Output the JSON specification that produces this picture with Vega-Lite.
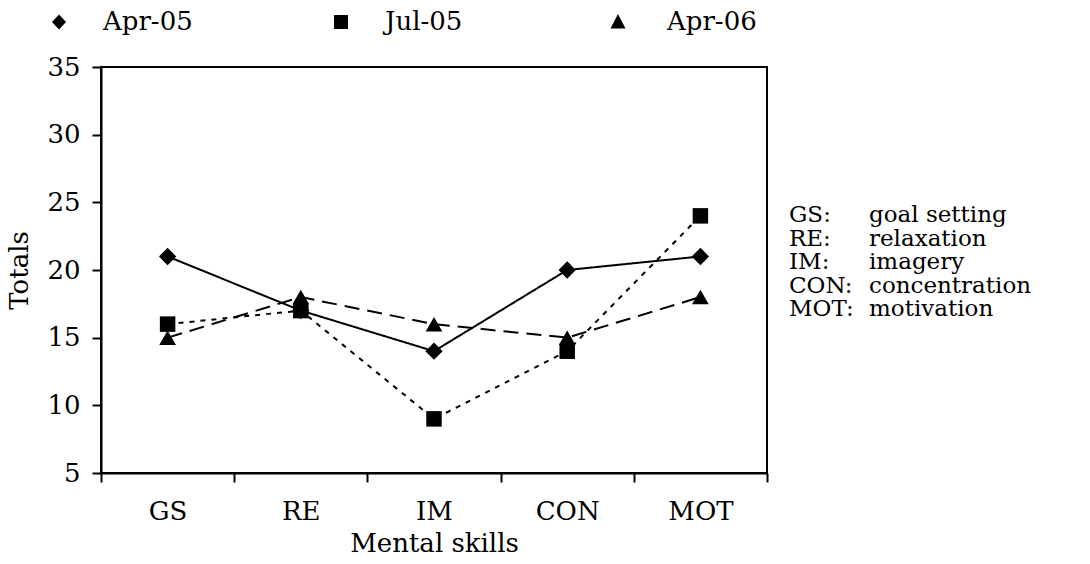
{
  "$schema": "https://vega.github.io/schema/vega-lite/v6.json",
  "background": "white",
  "padding": {"left": 5, "top": 9, "right": 5, "bottom": 2},
  "spacing": 20,
  "config": {
    "font": "DejaVu Serif",
    "view": {"stroke": null},
    "axis": {
      "domainColor": "black", "domainWidth": 2, "tickColor": "black", "tickWidth": 2,
      "labelColor": "black", "labelFontSize": 26, "labelFont": "DejaVu Serif",
      "titleColor": "black", "titleFontSize": 26, "titleFont": "DejaVu Serif", "titleFontWeight": "normal",
      "grid": false
    },
    "text": {"font": "DejaVu Serif"}
  },
  "hconcat": [
    {
      "width": 666,
      "height": 406,
      "view": {"stroke": "black", "strokeWidth": 2},
      "data": {"values": [
        {"series": "Apr-05", "skill": "GS", "total": 21},
        {"series": "Apr-05", "skill": "RE", "total": 17},
        {"series": "Apr-05", "skill": "IM", "total": 14},
        {"series": "Apr-05", "skill": "CON", "total": 20},
        {"series": "Apr-05", "skill": "MOT", "total": 21},
        {"series": "Jul-05", "skill": "GS", "total": 16},
        {"series": "Jul-05", "skill": "RE", "total": 17},
        {"series": "Jul-05", "skill": "IM", "total": 9},
        {"series": "Jul-05", "skill": "CON", "total": 14},
        {"series": "Jul-05", "skill": "MOT", "total": 24},
        {"series": "Apr-06", "skill": "GS", "total": 15},
        {"series": "Apr-06", "skill": "RE", "total": 18},
        {"series": "Apr-06", "skill": "IM", "total": 16},
        {"series": "Apr-06", "skill": "CON", "total": 15},
        {"series": "Apr-06", "skill": "MOT", "total": 18}
      ]},
      "layer": [
        {
          "mark": {"type": "line", "color": "black", "strokeWidth": 2},
          "encoding": {
            "x": {"field": "skill", "type": "nominal", "sort": ["GS", "RE", "IM", "CON", "MOT"],
                  "scale": {"type": "band", "paddingInner": 0, "paddingOuter": 0}, "bandPosition": 0.5,
                  "axis": {"title": "Mental skills", "tickBand": "extent", "labelAngle": 0, "tickSize": 9, "labelPadding": 16, "titlePadding": 6}},
            "y": {"field": "total", "type": "quantitative", "scale": {"domain": [5, 35], "nice": false, "zero": false},
                  "axis": {"title": "Totals", "values": [5, 10, 15, 20, 25, 30, 35], "tickSize": 9, "labelPadding": 12, "titlePadding": 14}},
            "strokeDash": {"field": "series", "type": "nominal", "sort": ["Apr-05", "Jul-05", "Apr-06"],
                  "scale": {"domain": ["Apr-05", "Jul-05", "Apr-06"], "range": [[1, 0], [5, 6], [15, 8]]},
                  "legend": null}
          }
        },
        {
          "transform": [{"filter": "datum.series === 'Apr-05'"}],
          "mark": {"type": "point", "filled": true, "color": "black", "opacity": 1, "size": 300, "shape": "diamond"},
          "encoding": {
            "x": {"field": "skill", "type": "nominal", "sort": ["GS", "RE", "IM", "CON", "MOT"], "bandPosition": 0.5},
            "y": {"field": "total", "type": "quantitative"}
          }
        },
        {
          "transform": [{"filter": "datum.series === 'Jul-05'"}],
          "mark": {"type": "point", "filled": true, "color": "black", "opacity": 1, "size": 240, "shape": "square"},
          "encoding": {
            "x": {"field": "skill", "type": "nominal", "sort": ["GS", "RE", "IM", "CON", "MOT"], "bandPosition": 0.5},
            "y": {"field": "total", "type": "quantitative"}
          }
        },
        {
          "transform": [{"filter": "datum.series === 'Apr-06'"}],
          "mark": {"type": "point", "filled": true, "color": "black", "opacity": 1, "size": 280, "shape": "triangle-up"},
          "encoding": {
            "x": {"field": "skill", "type": "nominal", "sort": ["GS", "RE", "IM", "CON", "MOT"], "bandPosition": 0.5},
            "y": {"field": "total", "type": "quantitative"}
          }
        },
        {
          "transform": [{"filter": "false"}],
          "mark": {"type": "point", "filled": true, "color": "black", "opacity": 1},
          "encoding": {
            "shape": {"field": "series", "type": "nominal",
                  "scale": {"domain": ["Apr-05", "Jul-05", "Apr-06"], "range": [
                    "M-1.1,0L6.9,0M3,-0.75L3.7,0L3,0.75L2.3,0Z",
                    "M-1.2,0L-0.5,0M0.2,0L0.9,0M1.6,0L2.3,0M3.7,0L4.3,0M5,0L5.7,0M6.4,0L7.1,0M2.3,-0.7L3.7,-0.7L3.7,0.7L2.3,0.7Z",
                    "M-1.4,0L1.2,0M3.6,0L5.9,0M2.5,-0.8L3.25,0.65L1.75,0.65Z"
                  ]},
                  "legend": {"orient": "none", "legendX": -85, "legendY": -58, "direction": "horizontal", "title": null,
                    "symbolSize": 400, "labelFontSize": 26, "labelFont": "DejaVu Serif", "labelColor": "black",
                    "labelOffset": 61, "columnPadding": 101, "gridAlign": "all", "labelLimit": 0,
                    "encode": {"symbols": {
                      "fill": {"value": "black"},
                      "stroke": {"value": "black"},
                      "strokeWidth": {"value": 2},
                      "opacity": {"value": 1}
                    }}}},
            "strokeDash": {"field": "series", "type": "nominal",
                  "scale": {"domain": ["Apr-05", "Jul-05", "Apr-06"], "range": [[1, 0], [1, 0], [1, 0]]},
                  "legend": null}
          }
        }
      ],
      "resolve": {"scale": {"strokeDash": "independent"}, "legend": {"strokeDash": "independent"}}
    },
    {
      "width": 160,
      "height": 406,
      "view": {"stroke": null},
      "data": {"values": [
        {"row": 1, "part": "key", "label": "GS:"},
        {"row": 1, "part": "desc", "label": "goal setting"},
        {"row": 2, "part": "key", "label": "RE:"},
        {"row": 2, "part": "desc", "label": "relaxation"},
        {"row": 3, "part": "key", "label": "IM:"},
        {"row": 3, "part": "desc", "label": "imagery"},
        {"row": 4, "part": "key", "label": "CON:"},
        {"row": 4, "part": "desc", "label": "concentration"},
        {"row": 5, "part": "key", "label": "MOT:"},
        {"row": 5, "part": "desc", "label": "motivation"}
      ]},
      "mark": {"type": "text", "align": "left", "baseline": "middle", "fontSize": 23, "color": "black", "font": "DejaVu Serif"},
      "encoding": {
        "x": {"field": "part", "type": "nominal", "sort": ["key", "desc"],
              "scale": {"type": "band", "paddingInner": 0, "paddingOuter": 0}, "bandPosition": 0, "axis": null},
        "y": {"field": "row", "type": "quantitative", "scale": {"domain": [-5.3, 11.98], "reverse": true, "nice": false, "zero": false}, "axis": null},
        "text": {"field": "label"}
      }
    }
  ]
}
